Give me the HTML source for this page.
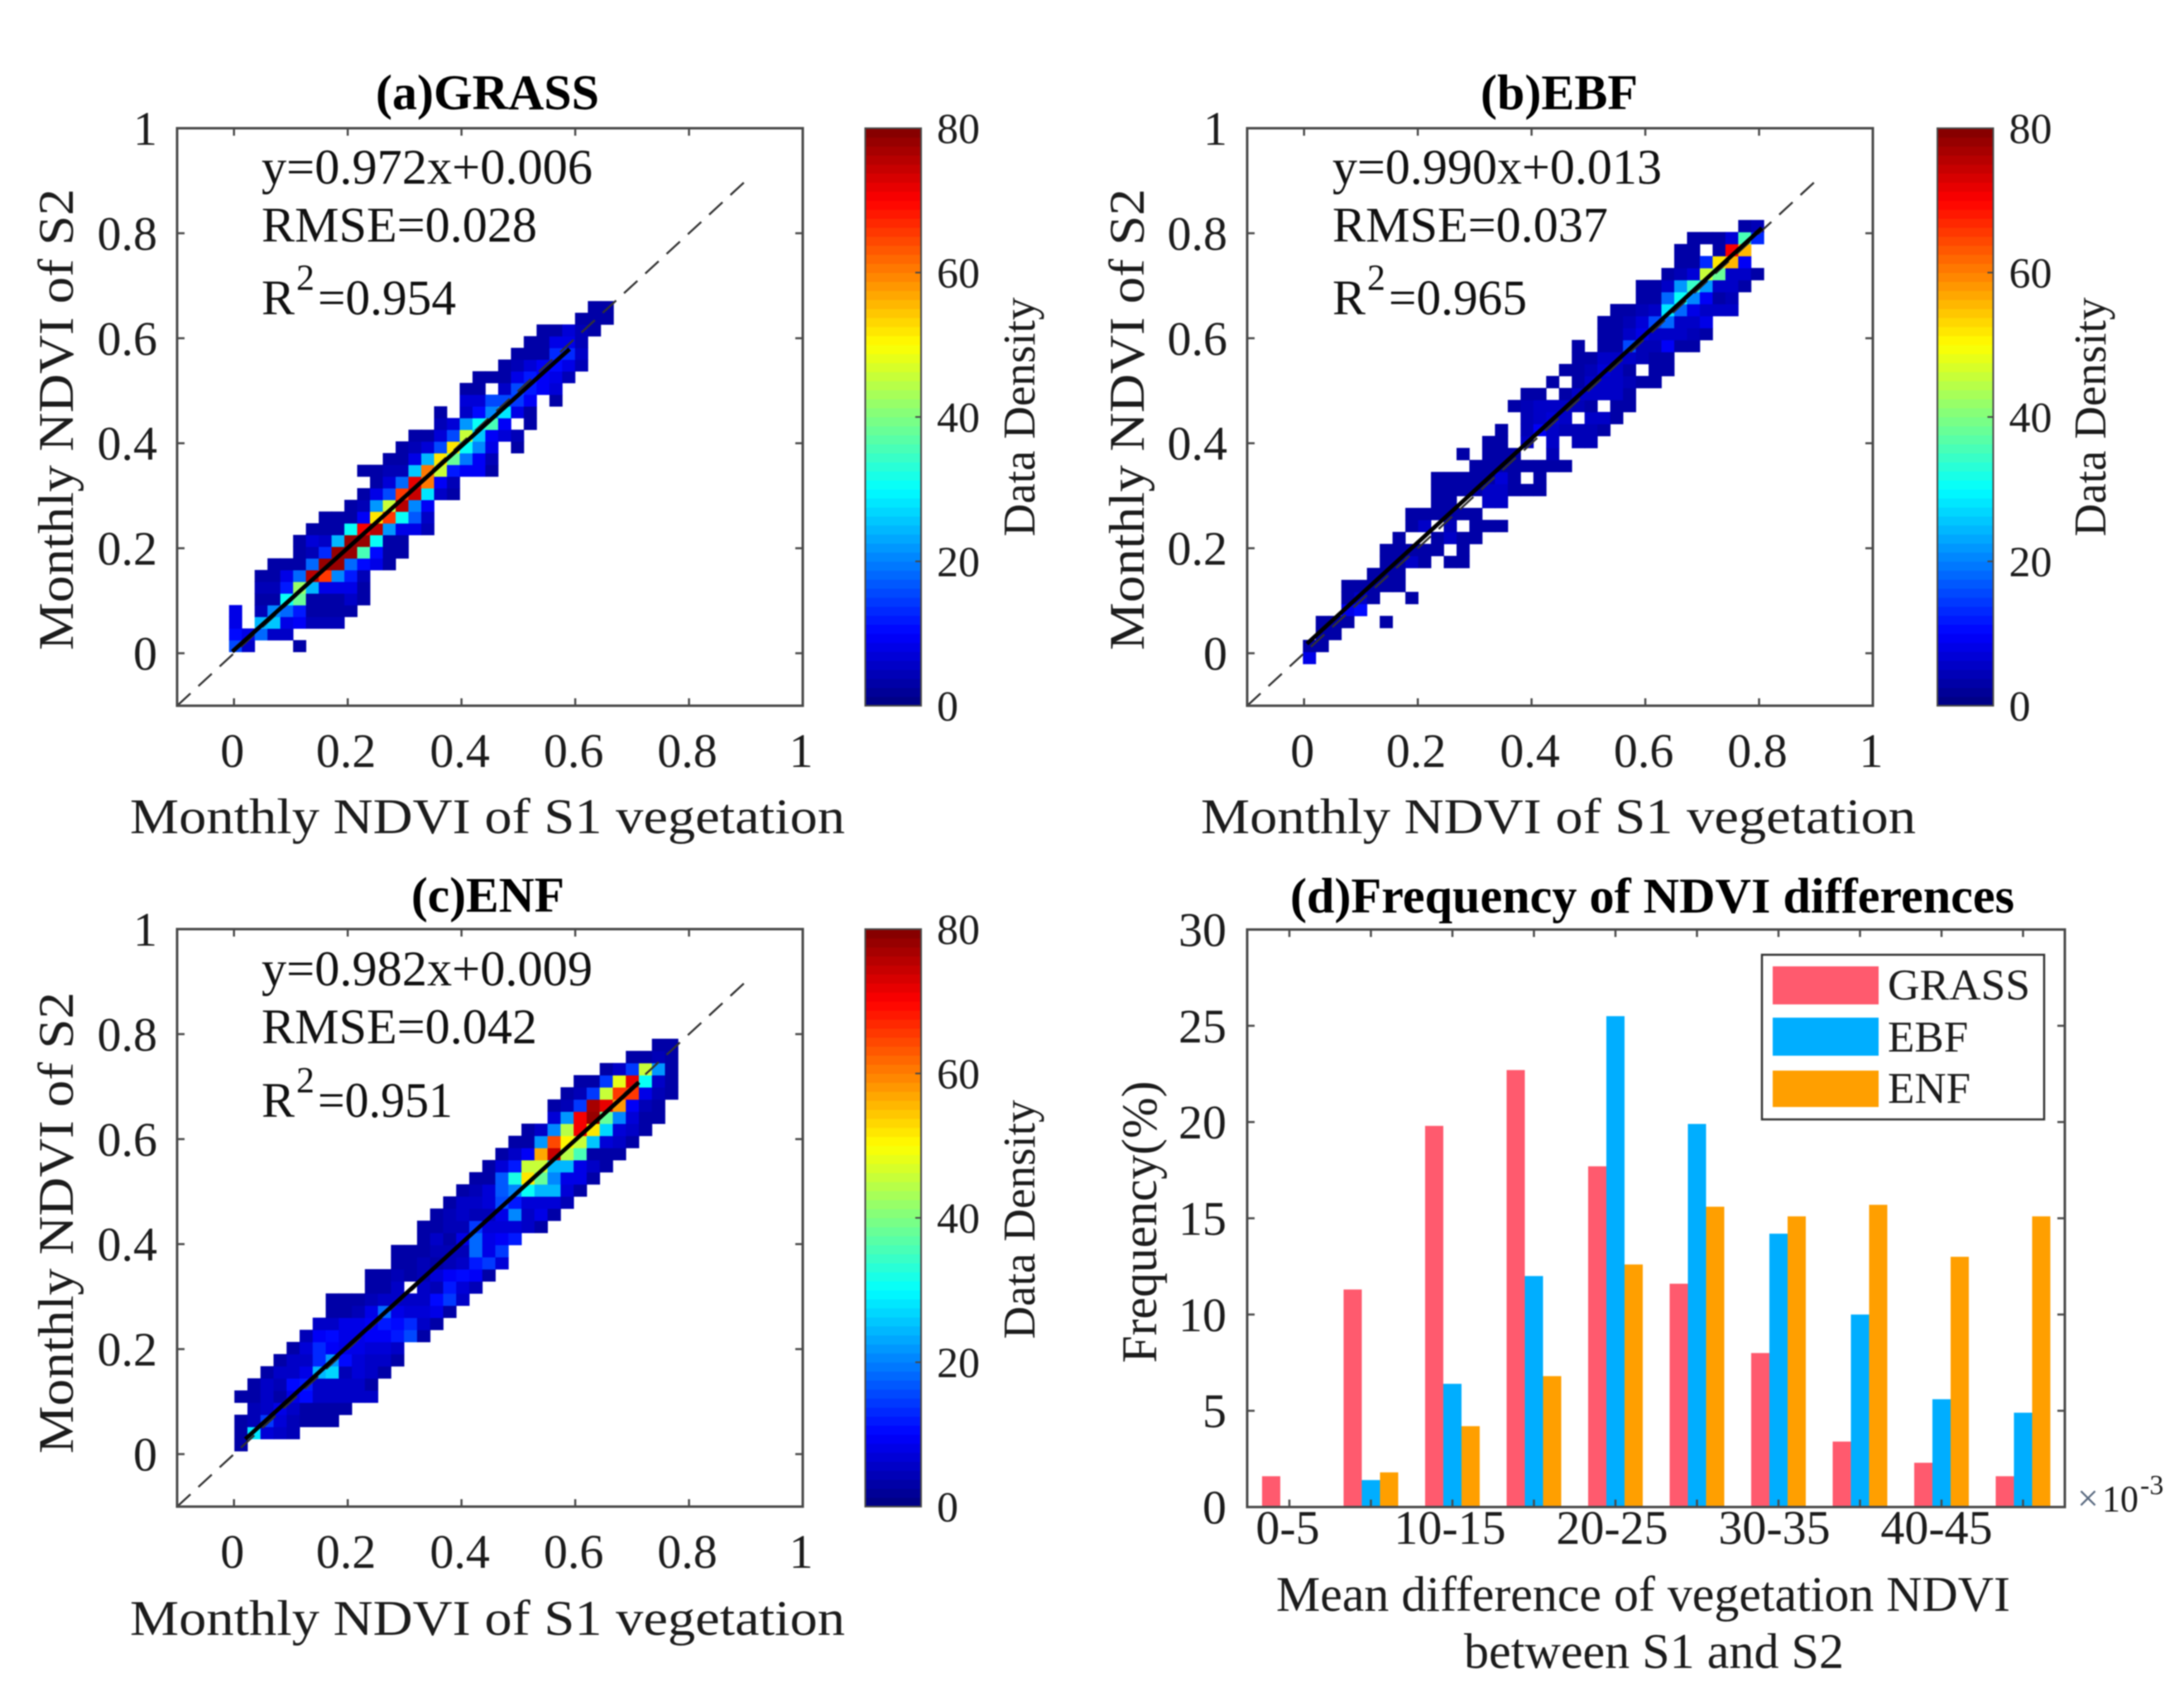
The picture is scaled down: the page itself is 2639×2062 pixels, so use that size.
<!DOCTYPE html>
<html lang="en">
<head>
<meta charset="utf-8">
<title>NDVI comparison of S1 vegetation and S2</title>
<style>
html,body{margin:0;padding:0;background:#fff;width:2639px;height:2062px;overflow:hidden}
svg{display:block;filter:blur(0.7px)}
text{font-family:"Liberation Serif",serif;fill:#1c1c1c}
.tick{font-size:58px}
.label{font-size:60px}
.title{font-size:60px;font-weight:bold;fill:#000}
.stat{font-size:60px;fill:#111}
.sup{font-size:44px;fill:#111}
.cbtick{font-size:52px}
.cblabel{font-size:55px}
.leg{font-size:53px}
</style>
</head>
<body>
<svg id="chart" xmlns="http://www.w3.org/2000/svg" width="2639" height="2062" viewBox="0 0 2639 2062">
  <rect x="0" y="0" width="2639" height="2062" fill="#fff"/>

  <g id="panel-a"></g>
  <g id="panel-b"></g>
  <g id="panel-c"></g>
  <g id="panel-d"></g>

  <!-- Panel (a) text -->
  <text class="title" x="454" y="132" textLength="270" lengthAdjust="spacingAndGlyphs">(a)GRASS</text>
  <text class="stat" x="316" y="222" textLength="400" lengthAdjust="spacingAndGlyphs">y=0.972x+0.006</text>
  <text class="stat" x="316" y="292" textLength="333" lengthAdjust="spacingAndGlyphs">RMSE=0.028</text>
  <text class="stat" x="316" y="380">R</text>
  <text class="sup" x="358" y="350">2</text>
  <text class="stat" x="384" y="380" textLength="167" lengthAdjust="spacingAndGlyphs">=0.954</text>
  <text class="label" x="157" y="1007" textLength="864" lengthAdjust="spacingAndGlyphs">Monthly NDVI of S1 vegetation</text>
  <text class="label" text-anchor="middle" transform="translate(88 507) rotate(-90)" textLength="558" lengthAdjust="spacingAndGlyphs">Monthly NDVI of S2</text>
  <text class="cblabel" text-anchor="middle" transform="translate(1250 504) rotate(-90)" textLength="289" lengthAdjust="spacingAndGlyphs">Data Density</text>

  <!-- Panel (b) text -->
  <text class="title" x="1789" y="132" textLength="190" lengthAdjust="spacingAndGlyphs">(b)EBF</text>
  <text class="stat" x="1610" y="222" textLength="398" lengthAdjust="spacingAndGlyphs">y=0.990x+0.013</text>
  <text class="stat" x="1610" y="292" textLength="333" lengthAdjust="spacingAndGlyphs">RMSE=0.037</text>
  <text class="stat" x="1610" y="380">R</text>
  <text class="sup" x="1652" y="350">2</text>
  <text class="stat" x="1678" y="380" textLength="167" lengthAdjust="spacingAndGlyphs">=0.965</text>
  <text class="label" x="1451" y="1007" textLength="864" lengthAdjust="spacingAndGlyphs">Monthly NDVI of S1 vegetation</text>
  <text class="label" text-anchor="middle" transform="translate(1382 507) rotate(-90)" textLength="558" lengthAdjust="spacingAndGlyphs">Monthly NDVI of S2</text>
  <text class="cblabel" text-anchor="middle" transform="translate(2544 504) rotate(-90)" textLength="289" lengthAdjust="spacingAndGlyphs">Data Density</text>

  <!-- Panel (c) text -->
  <text class="title" x="497" y="1102" textLength="185" lengthAdjust="spacingAndGlyphs">(c)ENF</text>
  <text class="stat" x="316" y="1191" textLength="400" lengthAdjust="spacingAndGlyphs">y=0.982x+0.009</text>
  <text class="stat" x="316" y="1261" textLength="333" lengthAdjust="spacingAndGlyphs">RMSE=0.042</text>
  <text class="stat" x="316" y="1350">R</text>
  <text class="sup" x="358" y="1320">2</text>
  <text class="stat" x="384" y="1350" textLength="163" lengthAdjust="spacingAndGlyphs">=0.951</text>
  <text class="label" x="157" y="1976" textLength="864" lengthAdjust="spacingAndGlyphs">Monthly NDVI of S1 vegetation</text>
  <text class="label" text-anchor="middle" transform="translate(88 1478) rotate(-90)" textLength="558" lengthAdjust="spacingAndGlyphs">Monthly NDVI of S2</text>
  <text class="cblabel" text-anchor="middle" transform="translate(1250 1474) rotate(-90)" textLength="289" lengthAdjust="spacingAndGlyphs">Data Density</text>

  <!-- Panel (d) text -->
  <text class="title" x="1559" y="1103" textLength="875" lengthAdjust="spacingAndGlyphs">(d)Frequency of NDVI differences</text>
  <text class="label" x="1542" y="1947" textLength="887" lengthAdjust="spacingAndGlyphs">Mean difference of vegetation NDVI</text>
  <text class="label" x="1769" y="2016" textLength="459" lengthAdjust="spacingAndGlyphs">between S1 and S2</text>
  <text class="label" text-anchor="middle" transform="translate(1397 1477) rotate(-90)" textLength="341" lengthAdjust="spacingAndGlyphs">Frequency(%)</text>
  <text font-size="46" style="fill:#5a6a80" x="2510" y="1826">×</text>
  <text font-size="46" x="2540" y="1827" textLength="44" lengthAdjust="spacingAndGlyphs">10</text>
  <text font-size="34" x="2586" y="1806">-3</text>

  <g id="legend">
    <rect x="2129" y="1154" width="341" height="199" fill="#fff" stroke="#333" stroke-width="2.5"/>
    <rect x="2142" y="1168" width="128" height="46" fill="#ff5a6e"/>
    <rect x="2142" y="1230" width="128" height="46" fill="#00aeff"/>
    <rect x="2142" y="1294" width="128" height="44" fill="#ff9f00"/>
    <text class="leg" x="2281" y="1208" textLength="172" lengthAdjust="spacingAndGlyphs">GRASS</text>
    <text class="leg" x="2281" y="1271">EBF</text>
    <text class="leg" x="2281" y="1333">ENF</text>
  </g>
</svg>

<script>
/* ---- Chart data ---- */
const ndviTickValues = [0, 0.2, 0.4, 0.6, 0.8, 1];
const ndviTickLabels = ['0', '0.2', '0.4', '0.6', '0.8', '1'];
const densityTickValues = [0, 20, 40, 60, 80];
const densityTickLabels = ['0', '20', '40', '60', '80'];
const densityMax = 80;
const diagonalEnds = [-0.1, 0.9];

const fitGrass = [0.972, 0.006, -0.003, 0.59];
const fitEbf = [0.990, 0.013, 0.005, 0.805];
const fitEnf = [0.982, 0.009, 0.02, 0.712];

/* histogram lattice in data units: first x edge, first y edge, x bin, y bin */
const binsGrass = [-0.0087, 0.0027, 0.02253, 0.02227];
const binsEbf = [-0.002, -0.0202, 0.02251, 0.02285];
const binsEnf = [0.0007, 0.0058, 0.02294, 0.0231];

/* per row (bottom to top): index of first filled bin, then densities */
const heatGrassStart = [0,0,0,0,2,2,2,3,5,5,6,7,9,10,11,10,12,13,14,16,16,18,18,19,21,22,23,24,27,28];
const heatGrassValues = [
[15,5,0,0,0,3],
[10,8,18,6,6],
[8,0,24,26,8,9,4,4,4],
[8,0,4,20,18,12,3,3,3,3],
[3,3,30,38,3,3,3,6,3],
[4,4,12,42,24,8,8,8,3],
[3,3,8,18,76,65,20,12,4],
[3,3,3,18,78,78,18,10,8,3],
[3,4,13,78,78,36,10,3,3],
[3,7,5,24,78,78,30,3,3],
[3,3,3,30,70,76,22,8,8,4],
[3,3,3,9,52,66,30,17,6],
[3,4,22,46,76,20,9],
[3,8,15,66,74,28,5,3],
[3,7,18,72,60,9,4],
[3,3,4,4,25,60,46,12,9,9,3],
[3,3,8,24,52,38,19,9,4],
[3,4,7,15,52,30,20,8,0,3],
[3,3,7,16,46,26,9,7,4],
[4,7,22,30,36,9,0,3],
[3,0,5,10,20,28,8,3],
[7,7,16,15,14,9,0,3],
[3,3,0,6,16,12,9,7],
[3,3,3,8,12,9,8,4],
[3,4,7,9,11,8,4],
[3,3,3,13,13,5],
[3,3,8,8,4],
[3,3,7,4,3],
[3,3,3],
[3,3]
];

const heatEbfStart = [0,0,1,1,3,3,3,5,6,6,7,8,8,10,10,10,13,12,14,15,17,16,17,19,20,21,21,23,23,24,26,26,28,29,29,30,34];
const heatEbfValues = [
[8],
[3,3],
[3,3],
[3,3,3,0,0,3],
[8,10],
[3,5,3,0,0,3],
[3,3,3,3,3],
[3,3,3],
[3,3,5,3,0,3,3],
[3,3,3,3,3,0,3],
[3,0,0,3,5,3,3],
[3,6,0,4,0,3,3,3],
[3,3,3,3,3,3],
[3,3,0,0,6,6],
[3,3,3,3,6,6,3,3,3],
[3,3,3,3,3,7,3,0,3],
[3,3,3,3,3,3,3,3],
[3,0,3,3,3,0,0,4],
[3,3,0,5,0,6,0,4,4],
[3,0,4,9,6,4,4,4,3],
[4,5,7,5,0,5,5,3],
[3,4,6,5,6,4,3,0,3,3],
[3,3,0,3,5,6,5,5,3],
[3,0,3,5,6,6,4,3,3],
[3,3,4,7,5,3,0,3,3],
[3,3,5,5,5,4,3,3],
[3,0,3,3,15,4,4,9,3,3],
[3,3,5,8,5,5,5,4,3],
[3,3,4,7,15,18,6,5,8],
[3,3,4,6,28,18,8,5,5,5],
[3,3,18,30,20,9,3,4],
[3,3,6,22,34,22,6,5,3],
[3,4,7,45,38,6,5,3],
[3,3,13,52,56,9],
[3,3,0,3,70,56],
[3,3,3,7,36,13],
[3,4]
];

const heatEnfStart = [0,0,0,1,0,1,2,3,4,5,6,7,7,10,10,12,12,14,14,15,16,17,18,19,20,21,22,24,24,25,26,28,30,32];
const heatEnfValues = [
[3],
[3,28,7,5,4],
[3,4,14,7,4,3,3,3],
[4,6,8,5,3,3,3,3],
[3,3,6,3,8,10,5,5,5,5,5],
[3,5,4,11,12,5,5,5,5,3],
[3,5,5,8,24,27,4,7,5,3],
[3,5,6,13,22,10,7,6,6,3],
[3,7,13,9,8,8,7,7,6],
[4,9,10,8,8,9,9,12,16,3],
[6,6,8,8,9,12,10,13,6,3],
[3,3,4,8,18,8,7,7,8,3],
[3,3,3,4,5,5,6,6,11,14,6],
[3,3,6,0,6,4,12,7,4],
[3,3,4,3,4,7,9,10,9,3],
[3,3,4,3,4,5,12,14,7],
[3,3,3,4,4,4,18,8,14],
[3,6,3,8,18,8,9,12],
[3,3,4,4,14,7,7,7,6,3],
[3,4,6,4,4,8,20,5,8,3],
[3,5,5,7,15,12,7,7,7,4],
[3,4,7,17,20,30,24,24,7,3],
[3,3,17,32,52,38,20,8,8,3],
[3,7,12,46,46,24,24,8,5,3],
[3,5,9,57,74,44,36,3,3,3],
[3,3,22,64,50,45,25,7,5,3],
[3,6,20,44,70,52,27,7,5,3],
[7,22,71,78,38,20,7,3,3],
[3,4,14,77,72,58,9,4,3],
[3,4,14,46,66,65,8,4,3],
[3,3,14,48,72,30,6,3],
[3,5,14,46,22,3],
[3,3,4,3],
[3,3]
];

const diffCategories = ['0-5','5-10','10-15','15-20','20-25','25-30','30-35','35-40','40-45','45-50'];
const diffTickLabels = ['0-5','','10-15','','20-25','','30-35','','40-45',''];
const freqGrass = [1.6, 11.3, 19.8, 22.7, 17.7, 11.6, 8.0, 3.4, 2.3, 1.6];
const freqEbf = [0, 1.4, 6.4, 12.0, 25.5, 19.9, 14.2, 10.0, 5.6, 4.9];
const freqEnf = [0, 1.8, 4.2, 6.8, 12.6, 15.6, 15.1, 15.7, 13.0, 15.1];
const freqTicks = [0, 5, 10, 15, 20, 25, 30];

/* ---- Drawing ---- */
const NS = 'http://www.w3.org/2000/svg';
const AXIS_COLOR = '#4a4a4a';

function make(parent, tag, attrs, name) {
  const el = document.createElementNS(NS, tag);
  for (const k in attrs) el.setAttribute(k, attrs[k]);
  
  
  parent.appendChild(el);
  return el;
}

function clamp01(v) { return Math.max(0, Math.min(1, v)); }

function jet(v) {
  const r = clamp01(1.5 - Math.abs(4 * v - 3));
  const g = clamp01(1.5 - Math.abs(4 * v - 2));
  const b = clamp01(1.5 - Math.abs(4 * v - 1));
  return 'rgb(' + Math.round(r * 255) + ',' + Math.round(g * 255) + ',' + Math.round(b * 255) + ')';
}

function densityColor(value) {
  const level = Math.min(63, Math.floor(value / densityMax * 64));
  return jet((level + 0.5) / 64);
}

function drawDensityPanel(id, prefix, left, top, cbX, starts, values, bins, fit) {
  const g = document.getElementById(id);
  const W = 756, H = 698;
  const xS = function (v) { return left + (v + 0.1) / 1.1 * W; };
  const yS = function (v) { return top + H - (v + 0.1) / 1.1 * H; };

  make(g, 'rect', {x: left, y: top, width: W, height: H, fill: '#fff'}, prefix + '-plot-area');

  values.forEach(function (row, r) {
    row.forEach(function (val, i) {
      if (!val) return;
      const c = starts[r] + i;
      const x0 = xS(bins[0] + c * bins[2]);
      const x1 = xS(bins[0] + (c + 1) * bins[2]);
      const y1 = yS(bins[1] + r * bins[3]);
      const y0 = yS(bins[1] + (r + 1) * bins[3]);
      make(g, 'rect', {x: x0, y: y0, width: x1 - x0 + 0.4, height: y1 - y0 + 0.4, fill: densityColor(val)}, prefix + '-density-cell');
    });
  });

  make(g, 'line', {
    x1: xS(diagonalEnds[0]), y1: yS(diagonalEnds[0]), x2: xS(diagonalEnds[1]), y2: yS(diagonalEnds[1]),
    stroke: '#333', 'stroke-width': 2.4, 'stroke-dasharray': '22 13'
  }, prefix + '-one-to-one-line');

  make(g, 'line', {
    x1: xS(fit[2]), y1: yS(fit[0] * fit[2] + fit[1]), x2: xS(fit[3]), y2: yS(fit[0] * fit[3] + fit[1]),
    stroke: '#000', 'stroke-width': 5
  }, prefix + '-fit-line');

  make(g, 'rect', {x: left, y: top, width: W, height: H, fill: 'none', stroke: AXIS_COLOR, 'stroke-width': 3}, prefix + '-axes-box');

  ndviTickValues.forEach(function (v, i) {
    const x = xS(v), y = yS(v);
    make(g, 'line', {x1: x, y1: top + H, x2: x, y2: top + H - 9, stroke: AXIS_COLOR, 'stroke-width': 2.5}, prefix + '-x-tick');
    make(g, 'line', {x1: x, y1: top, x2: x, y2: top + 9, stroke: AXIS_COLOR, 'stroke-width': 2.5}, prefix + '-x-tick-top');
    make(g, 'line', {x1: left, y1: y, x2: left + 9, y2: y, stroke: AXIS_COLOR, 'stroke-width': 2.5}, prefix + '-y-tick');
    make(g, 'line', {x1: left + W, y1: y, x2: left + W - 9, y2: y, stroke: AXIS_COLOR, 'stroke-width': 2.5}, prefix + '-y-tick-right');
    const xl = make(g, 'text', {class: 'tick', x: x - 2, y: top + H + 74, 'text-anchor': 'middle'}, prefix + '-x-tick-label');
    xl.textContent = ndviTickLabels[i];
    const yl = make(g, 'text', {class: 'tick', x: left - 24, y: y + 20, 'text-anchor': 'end'}, prefix + '-y-tick-label');
    yl.textContent = ndviTickLabels[i];
  });

  /* colour bar */
  const cbW = 67.5;
  for (let i = 0; i < 64; i++) {
    const h = H / 64;
    make(g, 'rect', {x: cbX, y: top + H - (i + 1) * h, width: cbW, height: h + 0.4, fill: jet((i + 0.5) / 64)}, prefix + '-colorbar-band');
  }
  make(g, 'rect', {x: cbX, y: top, width: cbW, height: H, fill: 'none', stroke: AXIS_COLOR, 'stroke-width': 2}, prefix + '-colorbar-outline');
  densityTickValues.forEach(function (v, i) {
    const y = top + H - v / densityMax * H;
    make(g, 'line', {x1: cbX + cbW, y1: y, x2: cbX + cbW - 7, y2: y, stroke: AXIS_COLOR, 'stroke-width': 2}, prefix + '-colorbar-tick');
    const t = make(g, 'text', {class: 'cbtick', x: cbX + cbW + 19, y: y + 18}, prefix + '-colorbar-tick-label');
    t.textContent = densityTickLabels[i];
  });
}

function drawBarPanel() {
  const g = document.getElementById('panel-d');
  const left = 1507, right = 2495, top = 1123.5, bottom = 1821.5;
  const xS = function (i) { return 1558 + i * 98.5; };
  const yS = function (v) { return bottom - v / 30 * (bottom - top); };
  const barW = 22;

  make(g, 'rect', {x: left, y: top, width: right - left, height: bottom - top, fill: '#fff'}, 'frequency-plot-area');

  [[freqGrass, '#ff5a6e', 'grass', -1], [freqEbf, '#00aeff', 'ebf', 0], [freqEnf, '#ff9f00', 'enf', 1]].forEach(function (s) {
    s[0].forEach(function (v, i) {
      if (!v) return;
      const cx = xS(i) + s[3] * barW;
      make(g, 'rect', {x: cx - barW / 2, y: yS(v), width: barW, height: bottom - yS(v), fill: s[1]}, 'bar-' + s[2] + '-' + diffCategories[i]);
    });
  });

  make(g, 'rect', {x: left, y: top, width: right - left, height: bottom - top, fill: 'none', stroke: AXIS_COLOR, 'stroke-width': 3}, 'frequency-axes-box');

  diffCategories.forEach(function (c, i) {
    const x = xS(i);
    make(g, 'line', {x1: x, y1: top, x2: x, y2: top + 9, stroke: AXIS_COLOR, 'stroke-width': 2.5}, 'frequency-x-tick-top');
    make(g, 'line', {x1: x, y1: bottom, x2: x, y2: bottom - 9, stroke: AXIS_COLOR, 'stroke-width': 2.5}, 'frequency-x-tick');
    if (diffTickLabels[i]) {
      const t = make(g, 'text', {class: 'tick', x: 1556 + i * 98, y: 1866, 'text-anchor': 'middle'}, 'frequency-x-tick-label');
      t.textContent = diffTickLabels[i];
    }
  });
  freqTicks.forEach(function (v) {
    const y = yS(v);
    make(g, 'line', {x1: left, y1: y, x2: left + 9, y2: y, stroke: AXIS_COLOR, 'stroke-width': 2.5}, 'frequency-y-tick');
    make(g, 'line', {x1: right, y1: y, x2: right - 9, y2: y, stroke: AXIS_COLOR, 'stroke-width': 2.5}, 'frequency-y-tick-right');
    const t = make(g, 'text', {class: 'tick', x: 1482, y: y + 20, 'text-anchor': 'end'}, 'frequency-y-tick-label');
    t.textContent = String(v);
  });
}

drawDensityPanel('panel-a', 'grass', 214, 155, 1045.5, heatGrassStart, heatGrassValues, binsGrass, fitGrass);
drawDensityPanel('panel-b', 'ebf', 1507, 155, 2341, heatEbfStart, heatEbfValues, binsEbf, fitEbf);
drawDensityPanel('panel-c', 'enf', 214, 1123, 1045.5, heatEnfStart, heatEnfValues, binsEnf, fitEnf);
drawBarPanel();
</script>
</body>
</html>
